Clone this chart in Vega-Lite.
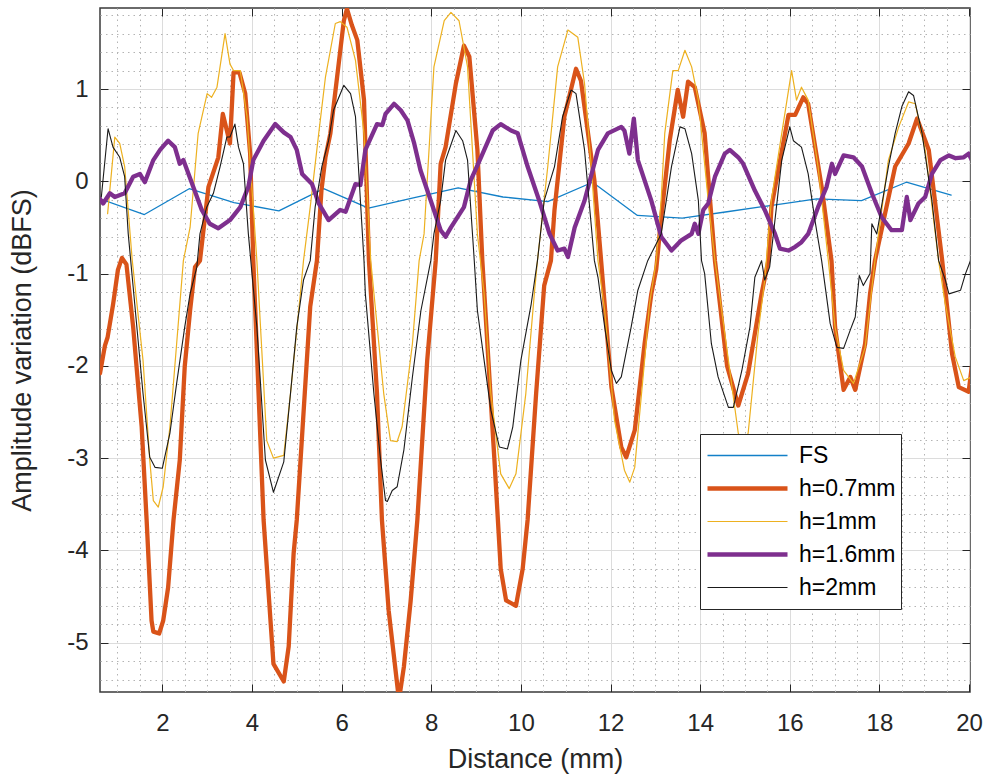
{
  "$schema": "https://vega.github.io/schema/vega-lite/v6.json",
  "width": 870,
  "height": 684,
  "autosize": {"type": "none"},
  "padding": {"left": 100, "top": 8, "right": 14, "bottom": 84},
  "background": "white",
  "config": {
    "view": {"stroke": "#3a3a3a", "strokeWidth": 1.5},
    "font": "Liberation Sans"
  },
  "data": {"values": [
    {"s":"FS","x":0.61,"y":-0.19},{"s":"FS","x":1.6,"y":-0.36},{"s":"FS","x":2.6,"y":-0.08},{"s":"FS","x":3.6,"y":-0.23},{"s":"FS","x":4.6,"y":-0.32},{"s":"FS","x":5.6,"y":-0.08},{"s":"FS","x":6.6,"y":-0.29},{"s":"FS","x":7.6,"y":-0.18},{"s":"FS","x":8.6,"y":-0.07},{"s":"FS","x":9.6,"y":-0.17},{"s":"FS","x":10.6,"y":-0.22},{"s":"FS","x":11.6,"y":-0.01},{"s":"FS","x":12.6,"y":-0.37},{"s":"FS","x":13.6,"y":-0.40},{"s":"FS","x":14.6,"y":-0.33},{"s":"FS","x":15.6,"y":-0.26},{"s":"FS","x":16.6,"y":-0.19},{"s":"FS","x":17.6,"y":-0.21},{"s":"FS","x":18.6,"y":-0.01},{"s":"FS","x":19.6,"y":-0.15},

    {"s":"h=0.7mm","x":0.61,"y":-2.08},{"s":"h=0.7mm","x":0.72,"y":-1.78},{"s":"h=0.7mm","x":0.78,"y":-1.69},{"s":"h=0.7mm","x":0.9,"y":-1.34},{"s":"h=0.7mm","x":1.01,"y":-0.96},{"s":"h=0.7mm","x":1.1,"y":-0.83},{"s":"h=0.7mm","x":1.2,"y":-0.9},{"s":"h=0.7mm","x":1.35,"y":-1.58},{"s":"h=0.7mm","x":1.54,"y":-2.66},{"s":"h=0.7mm","x":1.65,"y":-3.67},{"s":"h=0.7mm","x":1.76,"y":-4.76},{"s":"h=0.7mm","x":1.8,"y":-4.88},{"s":"h=0.7mm","x":1.93,"y":-4.9},{"s":"h=0.7mm","x":2.02,"y":-4.76},{"s":"h=0.7mm","x":2.13,"y":-4.4},{"s":"h=0.7mm","x":2.25,"y":-3.67},{"s":"h=0.7mm","x":2.39,"y":-3.02},{"s":"h=0.7mm","x":2.5,"y":-2.01},{"s":"h=0.7mm","x":2.62,"y":-1.4},{"s":"h=0.7mm","x":2.73,"y":-0.93},{"s":"h=0.7mm","x":2.84,"y":-0.86},{"s":"h=0.7mm","x":3.03,"y":-0.06},{"s":"h=0.7mm","x":3.25,"y":0.26},{"s":"h=0.7mm","x":3.35,"y":0.73},{"s":"h=0.7mm","x":3.42,"y":0.59},{"s":"h=0.7mm","x":3.51,"y":0.41},{"s":"h=0.7mm","x":3.59,"y":1.18},{"s":"h=0.7mm","x":3.72,"y":1.18},{"s":"h=0.7mm","x":3.85,"y":0.95},{"s":"h=0.7mm","x":3.96,"y":0.3},{"s":"h=0.7mm","x":4.03,"y":-0.86},{"s":"h=0.7mm","x":4.26,"y":-3.67},{"s":"h=0.7mm","x":4.48,"y":-5.23},{"s":"h=0.7mm","x":4.71,"y":-5.42},{"s":"h=0.7mm","x":4.82,"y":-5.04},{"s":"h=0.7mm","x":4.93,"y":-4.03},{"s":"h=0.7mm","x":5.0,"y":-3.67},{"s":"h=0.7mm","x":5.3,"y":-1.36},{"s":"h=0.7mm","x":5.45,"y":-0.86},{"s":"h=0.7mm","x":5.55,"y":-0.1},{"s":"h=0.7mm","x":5.64,"y":0.26},{"s":"h=0.7mm","x":5.75,"y":0.52},{"s":"h=0.7mm","x":5.9,"y":1.13},{"s":"h=0.7mm","x":6.05,"y":1.74},{"s":"h=0.7mm","x":6.12,"y":1.87},{"s":"h=0.7mm","x":6.23,"y":1.69},{"s":"h=0.7mm","x":6.35,"y":1.53},{"s":"h=0.7mm","x":6.5,"y":0.88},{"s":"h=0.7mm","x":6.61,"y":-0.86},{"s":"h=0.7mm","x":6.79,"y":-2.3},{"s":"h=0.7mm","x":6.9,"y":-3.67},{"s":"h=0.7mm","x":7.05,"y":-4.65},{"s":"h=0.7mm","x":7.28,"y":-5.62},{"s":"h=0.7mm","x":7.39,"y":-5.26},{"s":"h=0.7mm","x":7.54,"y":-4.55},{"s":"h=0.7mm","x":7.69,"y":-3.67},{"s":"h=0.7mm","x":7.91,"y":-1.94},{"s":"h=0.7mm","x":8.1,"y":-0.86},{"s":"h=0.7mm","x":8.21,"y":0.19},{"s":"h=0.7mm","x":8.32,"y":0.37},{"s":"h=0.7mm","x":8.55,"y":1.06},{"s":"h=0.7mm","x":8.73,"y":1.47},{"s":"h=0.7mm","x":8.85,"y":1.35},{"s":"h=0.7mm","x":9.03,"y":0.34},{"s":"h=0.7mm","x":9.14,"y":-0.86},{"s":"h=0.7mm","x":9.41,"y":-3.02},{"s":"h=0.7mm","x":9.55,"y":-4.2},{"s":"h=0.7mm","x":9.67,"y":-4.54},{"s":"h=0.7mm","x":9.89,"y":-4.6},{"s":"h=0.7mm","x":10.04,"y":-4.2},{"s":"h=0.7mm","x":10.15,"y":-3.67},{"s":"h=0.7mm","x":10.34,"y":-2.3},{"s":"h=0.7mm","x":10.52,"y":-1.13},{"s":"h=0.7mm","x":10.67,"y":-0.86},{"s":"h=0.7mm","x":10.75,"y":-0.31},{"s":"h=0.7mm","x":10.97,"y":0.7},{"s":"h=0.7mm","x":11.23,"y":1.22},{"s":"h=0.7mm","x":11.34,"y":1.09},{"s":"h=0.7mm","x":11.64,"y":0.01},{"s":"h=0.7mm","x":11.79,"y":-0.86},{"s":"h=0.7mm","x":12.02,"y":-2.23},{"s":"h=0.7mm","x":12.24,"y":-2.88},{"s":"h=0.7mm","x":12.35,"y":-2.99},{"s":"h=0.7mm","x":12.54,"y":-2.7},{"s":"h=0.7mm","x":12.76,"y":-1.76},{"s":"h=0.7mm","x":12.91,"y":-1.22},{"s":"h=0.7mm","x":13.02,"y":-0.95},{"s":"h=0.7mm","x":13.13,"y":-0.4},{"s":"h=0.7mm","x":13.32,"y":0.44},{"s":"h=0.7mm","x":13.5,"y":0.99},{"s":"h=0.7mm","x":13.62,"y":0.7},{"s":"h=0.7mm","x":13.73,"y":1.08},{"s":"h=0.7mm","x":13.88,"y":1.02},{"s":"h=0.7mm","x":14.1,"y":0.52},{"s":"h=0.7mm","x":14.33,"y":-0.86},{"s":"h=0.7mm","x":14.6,"y":-2.0},{"s":"h=0.7mm","x":14.85,"y":-2.43},{"s":"h=0.7mm","x":15.07,"y":-2.08},{"s":"h=0.7mm","x":15.37,"y":-1.22},{"s":"h=0.7mm","x":15.52,"y":-0.86},{"s":"h=0.7mm","x":15.59,"y":-0.28},{"s":"h=0.7mm","x":15.97,"y":0.72},{"s":"h=0.7mm","x":16.12,"y":0.72},{"s":"h=0.7mm","x":16.3,"y":0.91},{"s":"h=0.7mm","x":16.41,"y":0.84},{"s":"h=0.7mm","x":16.71,"y":-0.06},{"s":"h=0.7mm","x":16.93,"y":-0.86},{"s":"h=0.7mm","x":17.01,"y":-1.58},{"s":"h=0.7mm","x":17.2,"y":-2.26},{"s":"h=0.7mm","x":17.35,"y":-2.12},{"s":"h=0.7mm","x":17.46,"y":-2.26},{"s":"h=0.7mm","x":17.68,"y":-1.76},{"s":"h=0.7mm","x":17.79,"y":-1.22},{"s":"h=0.7mm","x":17.9,"y":-0.86},{"s":"h=0.7mm","x":18.35,"y":0.16},{"s":"h=0.7mm","x":18.65,"y":0.41},{"s":"h=0.7mm","x":18.84,"y":0.68},{"s":"h=0.7mm","x":19.1,"y":0.34},{"s":"h=0.7mm","x":19.4,"y":-0.86},{"s":"h=0.7mm","x":19.62,"y":-1.87},{"s":"h=0.7mm","x":19.77,"y":-2.23},{"s":"h=0.7mm","x":19.99,"y":-2.28},{"s":"h=0.7mm","x":20.06,"y":-2.01},

    {"s":"h=1mm","x":0.78,"y":-0.35},{"s":"h=1mm","x":0.94,"y":0.48},{"s":"h=1mm","x":1.05,"y":0.41},{"s":"h=1mm","x":1.16,"y":0.16},{"s":"h=1mm","x":1.33,"y":-0.86},{"s":"h=1mm","x":1.57,"y":-1.94},{"s":"h=1mm","x":1.72,"y":-3.02},{"s":"h=1mm","x":1.8,"y":-3.46},{"s":"h=1mm","x":1.91,"y":-3.53},{"s":"h=1mm","x":2.02,"y":-3.31},{"s":"h=1mm","x":2.17,"y":-2.66},{"s":"h=1mm","x":2.32,"y":-1.76},{"s":"h=1mm","x":2.47,"y":-0.86},{"s":"h=1mm","x":2.62,"y":-0.5},{"s":"h=1mm","x":2.8,"y":0.52},{"s":"h=1mm","x":3.0,"y":0.95},{"s":"h=1mm","x":3.1,"y":0.91},{"s":"h=1mm","x":3.22,"y":1.02},{"s":"h=1mm","x":3.4,"y":1.6},{"s":"h=1mm","x":3.51,"y":1.27},{"s":"h=1mm","x":3.59,"y":1.2},{"s":"h=1mm","x":3.74,"y":1.2},{"s":"h=1mm","x":3.89,"y":0.7},{"s":"h=1mm","x":4.11,"y":-0.86},{"s":"h=1mm","x":4.33,"y":-2.81},{"s":"h=1mm","x":4.48,"y":-3.0},{"s":"h=1mm","x":4.71,"y":-2.97},{"s":"h=1mm","x":4.86,"y":-2.3},{"s":"h=1mm","x":5.08,"y":-1.22},{"s":"h=1mm","x":5.15,"y":-0.86},{"s":"h=1mm","x":5.3,"y":-0.28},{"s":"h=1mm","x":5.49,"y":0.52},{"s":"h=1mm","x":5.64,"y":1.13},{"s":"h=1mm","x":5.86,"y":1.71},{"s":"h=1mm","x":5.97,"y":1.73},{"s":"h=1mm","x":6.12,"y":1.67},{"s":"h=1mm","x":6.31,"y":1.31},{"s":"h=1mm","x":6.5,"y":0.52},{"s":"h=1mm","x":6.65,"y":-0.86},{"s":"h=1mm","x":6.94,"y":-2.3},{"s":"h=1mm","x":7.09,"y":-2.81},{"s":"h=1mm","x":7.24,"y":-2.82},{"s":"h=1mm","x":7.35,"y":-2.66},{"s":"h=1mm","x":7.58,"y":-1.76},{"s":"h=1mm","x":7.73,"y":-0.86},{"s":"h=1mm","x":7.84,"y":-0.57},{"s":"h=1mm","x":8.06,"y":1.24},{"s":"h=1mm","x":8.29,"y":1.74},{"s":"h=1mm","x":8.44,"y":1.83},{"s":"h=1mm","x":8.62,"y":1.74},{"s":"h=1mm","x":8.81,"y":1.24},{"s":"h=1mm","x":9.03,"y":-0.57},{"s":"h=1mm","x":9.18,"y":-1.22},{"s":"h=1mm","x":9.33,"y":-2.3},{"s":"h=1mm","x":9.55,"y":-3.17},{"s":"h=1mm","x":9.74,"y":-3.33},{"s":"h=1mm","x":9.89,"y":-3.17},{"s":"h=1mm","x":10.11,"y":-2.3},{"s":"h=1mm","x":10.3,"y":-1.22},{"s":"h=1mm","x":10.37,"y":-0.86},{"s":"h=1mm","x":10.6,"y":0.16},{"s":"h=1mm","x":10.82,"y":1.24},{"s":"h=1mm","x":11.05,"y":1.64},{"s":"h=1mm","x":11.27,"y":1.56},{"s":"h=1mm","x":11.42,"y":1.06},{"s":"h=1mm","x":11.57,"y":0.16},{"s":"h=1mm","x":11.72,"y":-0.86},{"s":"h=1mm","x":11.87,"y":-1.4},{"s":"h=1mm","x":12.09,"y":-2.59},{"s":"h=1mm","x":12.31,"y":-3.13},{"s":"h=1mm","x":12.43,"y":-3.26},{"s":"h=1mm","x":12.54,"y":-3.1},{"s":"h=1mm","x":12.76,"y":-1.94},{"s":"h=1mm","x":12.87,"y":-1.33},{"s":"h=1mm","x":13.02,"y":-0.86},{"s":"h=1mm","x":13.13,"y":-0.2},{"s":"h=1mm","x":13.21,"y":0.52},{"s":"h=1mm","x":13.39,"y":1.2},{"s":"h=1mm","x":13.51,"y":1.2},{"s":"h=1mm","x":13.66,"y":1.42},{"s":"h=1mm","x":13.81,"y":1.24},{"s":"h=1mm","x":13.96,"y":0.88},{"s":"h=1mm","x":14.18,"y":-0.21},{"s":"h=1mm","x":14.33,"y":-0.86},{"s":"h=1mm","x":14.63,"y":-1.94},{"s":"h=1mm","x":14.85,"y":-2.73},{"s":"h=1mm","x":14.96,"y":-2.85},{"s":"h=1mm","x":15.07,"y":-2.73},{"s":"h=1mm","x":15.29,"y":-1.65},{"s":"h=1mm","x":15.44,"y":-1.07},{"s":"h=1mm","x":15.59,"y":-0.2},{"s":"h=1mm","x":15.82,"y":0.52},{"s":"h=1mm","x":16.04,"y":1.2},{"s":"h=1mm","x":16.15,"y":0.88},{"s":"h=1mm","x":16.26,"y":1.02},{"s":"h=1mm","x":16.41,"y":0.88},{"s":"h=1mm","x":16.63,"y":0.16},{"s":"h=1mm","x":16.86,"y":-0.86},{"s":"h=1mm","x":17.01,"y":-1.58},{"s":"h=1mm","x":17.2,"y":-2.05},{"s":"h=1mm","x":17.42,"y":-2.19},{"s":"h=1mm","x":17.68,"y":-1.8},{"s":"h=1mm","x":17.9,"y":-0.86},{"s":"h=1mm","x":18.2,"y":0.23},{"s":"h=1mm","x":18.43,"y":0.59},{"s":"h=1mm","x":18.65,"y":0.86},{"s":"h=1mm","x":18.8,"y":0.84},{"s":"h=1mm","x":19.02,"y":0.34},{"s":"h=1mm","x":19.32,"y":-0.86},{"s":"h=1mm","x":19.47,"y":-1.33},{"s":"h=1mm","x":19.69,"y":-1.9},{"s":"h=1mm","x":19.88,"y":-2.16},{"s":"h=1mm","x":20.06,"y":-2.12},

    {"s":"h=1.6mm","x":0.61,"y":-0.19},{"s":"h=1.6mm","x":0.68,"y":-0.24},{"s":"h=1.6mm","x":0.83,"y":-0.13},{"s":"h=1.6mm","x":0.94,"y":-0.17},{"s":"h=1.6mm","x":1.16,"y":-0.13},{"s":"h=1.6mm","x":1.35,"y":0.05},{"s":"h=1.6mm","x":1.5,"y":0.08},{"s":"h=1.6mm","x":1.61,"y":-0.01},{"s":"h=1.6mm","x":1.8,"y":0.23},{"s":"h=1.6mm","x":1.95,"y":0.34},{"s":"h=1.6mm","x":2.13,"y":0.44},{"s":"h=1.6mm","x":2.28,"y":0.37},{"s":"h=1.6mm","x":2.39,"y":0.19},{"s":"h=1.6mm","x":2.47,"y":0.23},{"s":"h=1.6mm","x":2.69,"y":-0.06},{"s":"h=1.6mm","x":2.88,"y":-0.31},{"s":"h=1.6mm","x":3.06,"y":-0.46},{"s":"h=1.6mm","x":3.25,"y":-0.51},{"s":"h=1.6mm","x":3.51,"y":-0.42},{"s":"h=1.6mm","x":3.74,"y":-0.28},{"s":"h=1.6mm","x":3.92,"y":-0.06},{"s":"h=1.6mm","x":4.03,"y":0.23},{"s":"h=1.6mm","x":4.26,"y":0.44},{"s":"h=1.6mm","x":4.52,"y":0.62},{"s":"h=1.6mm","x":4.71,"y":0.53},{"s":"h=1.6mm","x":4.86,"y":0.48},{"s":"h=1.6mm","x":5.0,"y":0.34},{"s":"h=1.6mm","x":5.12,"y":0.08},{"s":"h=1.6mm","x":5.34,"y":-0.03},{"s":"h=1.6mm","x":5.49,"y":-0.24},{"s":"h=1.6mm","x":5.71,"y":-0.42},{"s":"h=1.6mm","x":5.78,"y":-0.39},{"s":"h=1.6mm","x":5.97,"y":-0.31},{"s":"h=1.6mm","x":6.09,"y":-0.33},{"s":"h=1.6mm","x":6.31,"y":-0.03},{"s":"h=1.6mm","x":6.42,"y":-0.04},{"s":"h=1.6mm","x":6.53,"y":0.34},{"s":"h=1.6mm","x":6.79,"y":0.62},{"s":"h=1.6mm","x":6.91,"y":0.61},{"s":"h=1.6mm","x":6.98,"y":0.73},{"s":"h=1.6mm","x":7.17,"y":0.84},{"s":"h=1.6mm","x":7.32,"y":0.77},{"s":"h=1.6mm","x":7.47,"y":0.66},{"s":"h=1.6mm","x":7.62,"y":0.41},{"s":"h=1.6mm","x":7.76,"y":0.12},{"s":"h=1.6mm","x":7.99,"y":-0.21},{"s":"h=1.6mm","x":8.21,"y":-0.53},{"s":"h=1.6mm","x":8.32,"y":-0.6},{"s":"h=1.6mm","x":8.44,"y":-0.5},{"s":"h=1.6mm","x":8.73,"y":-0.28},{"s":"h=1.6mm","x":8.88,"y":0.01},{"s":"h=1.6mm","x":9.11,"y":0.26},{"s":"h=1.6mm","x":9.37,"y":0.55},{"s":"h=1.6mm","x":9.55,"y":0.62},{"s":"h=1.6mm","x":9.78,"y":0.55},{"s":"h=1.6mm","x":9.93,"y":0.52},{"s":"h=1.6mm","x":10.15,"y":0.16},{"s":"h=1.6mm","x":10.41,"y":-0.21},{"s":"h=1.6mm","x":10.64,"y":-0.57},{"s":"h=1.6mm","x":10.82,"y":-0.75},{"s":"h=1.6mm","x":10.97,"y":-0.73},{"s":"h=1.6mm","x":11.05,"y":-0.82},{"s":"h=1.6mm","x":11.2,"y":-0.5},{"s":"h=1.6mm","x":11.42,"y":-0.21},{"s":"h=1.6mm","x":11.72,"y":0.34},{"s":"h=1.6mm","x":11.94,"y":0.52},{"s":"h=1.6mm","x":12.24,"y":0.59},{"s":"h=1.6mm","x":12.31,"y":0.55},{"s":"h=1.6mm","x":12.42,"y":0.3},{"s":"h=1.6mm","x":12.52,"y":0.68},{"s":"h=1.6mm","x":12.61,"y":0.23},{"s":"h=1.6mm","x":12.91,"y":-0.21},{"s":"h=1.6mm","x":13.13,"y":-0.6},{"s":"h=1.6mm","x":13.36,"y":-0.75},{"s":"h=1.6mm","x":13.58,"y":-0.64},{"s":"h=1.6mm","x":13.81,"y":-0.57},{"s":"h=1.6mm","x":13.88,"y":-0.46},{"s":"h=1.6mm","x":13.96,"y":-0.57},{"s":"h=1.6mm","x":14.07,"y":-0.31},{"s":"h=1.6mm","x":14.18,"y":-0.24},{"s":"h=1.6mm","x":14.33,"y":0.05},{"s":"h=1.6mm","x":14.55,"y":0.3},{"s":"h=1.6mm","x":14.66,"y":0.34},{"s":"h=1.6mm","x":14.85,"y":0.26},{"s":"h=1.6mm","x":14.96,"y":0.19},{"s":"h=1.6mm","x":15.22,"y":-0.1},{"s":"h=1.6mm","x":15.44,"y":-0.31},{"s":"h=1.6mm","x":15.67,"y":-0.57},{"s":"h=1.6mm","x":15.78,"y":-0.73},{"s":"h=1.6mm","x":15.97,"y":-0.75},{"s":"h=1.6mm","x":16.12,"y":-0.71},{"s":"h=1.6mm","x":16.26,"y":-0.66},{"s":"h=1.6mm","x":16.41,"y":-0.57},{"s":"h=1.6mm","x":16.63,"y":-0.28},{"s":"h=1.6mm","x":16.82,"y":-0.06},{"s":"h=1.6mm","x":16.94,"y":0.19},{"s":"h=1.6mm","x":17.01,"y":0.08},{"s":"h=1.6mm","x":17.2,"y":0.28},{"s":"h=1.6mm","x":17.42,"y":0.26},{"s":"h=1.6mm","x":17.61,"y":0.16},{"s":"h=1.6mm","x":17.83,"y":-0.13},{"s":"h=1.6mm","x":18.05,"y":-0.39},{"s":"h=1.6mm","x":18.27,"y":-0.53},{"s":"h=1.6mm","x":18.5,"y":-0.53},{"s":"h=1.6mm","x":18.61,"y":-0.17},{"s":"h=1.6mm","x":18.69,"y":-0.42},{"s":"h=1.6mm","x":18.87,"y":-0.24},{"s":"h=1.6mm","x":19.02,"y":-0.17},{"s":"h=1.6mm","x":19.17,"y":0.08},{"s":"h=1.6mm","x":19.36,"y":0.23},{"s":"h=1.6mm","x":19.55,"y":0.28},{"s":"h=1.6mm","x":19.7,"y":0.25},{"s":"h=1.6mm","x":19.88,"y":0.26},{"s":"h=1.6mm","x":19.99,"y":0.3},{"s":"h=1.6mm","x":20.06,"y":0.23},

    {"s":"h=2mm","x":0.64,"y":-0.17},{"s":"h=2mm","x":0.79,"y":0.57},{"s":"h=2mm","x":0.9,"y":0.37},{"s":"h=2mm","x":1.05,"y":0.26},{"s":"h=2mm","x":1.16,"y":0.05},{"s":"h=2mm","x":1.24,"y":-0.57},{"s":"h=2mm","x":1.57,"y":-2.3},{"s":"h=2mm","x":1.72,"y":-2.99},{"s":"h=2mm","x":1.84,"y":-3.1},{"s":"h=2mm","x":2.0,"y":-3.11},{"s":"h=2mm","x":2.17,"y":-2.73},{"s":"h=2mm","x":2.32,"y":-2.19},{"s":"h=2mm","x":2.5,"y":-1.58},{"s":"h=2mm","x":2.62,"y":-1.22},{"s":"h=2mm","x":2.77,"y":-0.93},{"s":"h=2mm","x":2.84,"y":-0.57},{"s":"h=2mm","x":2.99,"y":-0.28},{"s":"h=2mm","x":3.06,"y":-0.21},{"s":"h=2mm","x":3.14,"y":-0.13},{"s":"h=2mm","x":3.29,"y":0.16},{"s":"h=2mm","x":3.44,"y":0.48},{"s":"h=2mm","x":3.51,"y":0.48},{"s":"h=2mm","x":3.62,"y":0.62},{"s":"h=2mm","x":3.7,"y":0.37},{"s":"h=2mm","x":3.81,"y":0.19},{"s":"h=2mm","x":3.92,"y":-0.57},{"s":"h=2mm","x":4.11,"y":-1.58},{"s":"h=2mm","x":4.3,"y":-3.02},{"s":"h=2mm","x":4.48,"y":-3.37},{"s":"h=2mm","x":4.71,"y":-3.04},{"s":"h=2mm","x":4.86,"y":-2.3},{"s":"h=2mm","x":5.0,"y":-1.58},{"s":"h=2mm","x":5.15,"y":-1.07},{"s":"h=2mm","x":5.3,"y":-0.86},{"s":"h=2mm","x":5.41,"y":-0.28},{"s":"h=2mm","x":5.56,"y":0.16},{"s":"h=2mm","x":5.71,"y":0.44},{"s":"h=2mm","x":5.82,"y":0.77},{"s":"h=2mm","x":6.05,"y":1.04},{"s":"h=2mm","x":6.2,"y":0.95},{"s":"h=2mm","x":6.31,"y":0.7},{"s":"h=2mm","x":6.42,"y":-0.21},{"s":"h=2mm","x":6.5,"y":-0.86},{"s":"h=2mm","x":6.53,"y":-1.22},{"s":"h=2mm","x":6.72,"y":-2.3},{"s":"h=2mm","x":6.87,"y":-3.02},{"s":"h=2mm","x":6.98,"y":-3.46},{"s":"h=2mm","x":7.02,"y":-3.47},{"s":"h=2mm","x":7.13,"y":-3.35},{"s":"h=2mm","x":7.24,"y":-3.31},{"s":"h=2mm","x":7.39,"y":-2.91},{"s":"h=2mm","x":7.58,"y":-2.12},{"s":"h=2mm","x":7.77,"y":-1.4},{"s":"h=2mm","x":7.99,"y":-0.86},{"s":"h=2mm","x":8.06,"y":-0.57},{"s":"h=2mm","x":8.21,"y":-0.21},{"s":"h=2mm","x":8.32,"y":0.23},{"s":"h=2mm","x":8.55,"y":0.55},{"s":"h=2mm","x":8.7,"y":0.44},{"s":"h=2mm","x":8.81,"y":0.23},{"s":"h=2mm","x":8.96,"y":-0.86},{"s":"h=2mm","x":9.03,"y":-1.4},{"s":"h=2mm","x":9.18,"y":-1.94},{"s":"h=2mm","x":9.33,"y":-2.48},{"s":"h=2mm","x":9.52,"y":-2.88},{"s":"h=2mm","x":9.7,"y":-2.9},{"s":"h=2mm","x":9.82,"y":-2.66},{"s":"h=2mm","x":10.0,"y":-1.94},{"s":"h=2mm","x":10.23,"y":-1.33},{"s":"h=2mm","x":10.37,"y":-0.86},{"s":"h=2mm","x":10.52,"y":-0.21},{"s":"h=2mm","x":10.75,"y":0.16},{"s":"h=2mm","x":10.93,"y":0.7},{"s":"h=2mm","x":11.12,"y":0.99},{"s":"h=2mm","x":11.23,"y":0.95},{"s":"h=2mm","x":11.42,"y":0.34},{"s":"h=2mm","x":11.64,"y":-0.86},{"s":"h=2mm","x":11.72,"y":-1.04},{"s":"h=2mm","x":11.87,"y":-1.58},{"s":"h=2mm","x":12.02,"y":-2.05},{"s":"h=2mm","x":12.13,"y":-2.19},{"s":"h=2mm","x":12.24,"y":-2.12},{"s":"h=2mm","x":12.46,"y":-1.58},{"s":"h=2mm","x":12.61,"y":-1.18},{"s":"h=2mm","x":12.83,"y":-0.86},{"s":"h=2mm","x":13.13,"y":-0.57},{"s":"h=2mm","x":13.36,"y":0.16},{"s":"h=2mm","x":13.55,"y":0.59},{"s":"h=2mm","x":13.66,"y":0.57},{"s":"h=2mm","x":13.81,"y":0.3},{"s":"h=2mm","x":13.96,"y":-0.21},{"s":"h=2mm","x":14.03,"y":-0.86},{"s":"h=2mm","x":14.1,"y":-1.0},{"s":"h=2mm","x":14.25,"y":-1.76},{"s":"h=2mm","x":14.4,"y":-2.12},{"s":"h=2mm","x":14.63,"y":-2.45},{"s":"h=2mm","x":14.74,"y":-2.45},{"s":"h=2mm","x":14.93,"y":-2.05},{"s":"h=2mm","x":15.11,"y":-1.58},{"s":"h=2mm","x":15.22,"y":-1.04},{"s":"h=2mm","x":15.37,"y":-0.86},{"s":"h=2mm","x":15.44,"y":-1.07},{"s":"h=2mm","x":15.55,"y":-0.93},{"s":"h=2mm","x":15.82,"y":0.23},{"s":"h=2mm","x":16.0,"y":0.59},{"s":"h=2mm","x":16.08,"y":0.44},{"s":"h=2mm","x":16.26,"y":0.37},{"s":"h=2mm","x":16.41,"y":0.08},{"s":"h=2mm","x":16.56,"y":-0.42},{"s":"h=2mm","x":16.71,"y":-0.86},{"s":"h=2mm","x":16.75,"y":-1.0},{"s":"h=2mm","x":16.9,"y":-1.54},{"s":"h=2mm","x":17.05,"y":-1.8},{"s":"h=2mm","x":17.2,"y":-1.81},{"s":"h=2mm","x":17.35,"y":-1.61},{"s":"h=2mm","x":17.46,"y":-1.47},{"s":"h=2mm","x":17.55,"y":-1.02},{"s":"h=2mm","x":17.64,"y":-1.13},{"s":"h=2mm","x":17.79,"y":-1.0},{"s":"h=2mm","x":17.83,"y":-0.46},{"s":"h=2mm","x":17.94,"y":-0.57},{"s":"h=2mm","x":18.2,"y":0.16},{"s":"h=2mm","x":18.35,"y":0.52},{"s":"h=2mm","x":18.5,"y":0.81},{"s":"h=2mm","x":18.65,"y":0.97},{"s":"h=2mm","x":18.76,"y":0.93},{"s":"h=2mm","x":18.95,"y":0.52},{"s":"h=2mm","x":19.17,"y":-0.21},{"s":"h=2mm","x":19.32,"y":-0.86},{"s":"h=2mm","x":19.47,"y":-1.07},{"s":"h=2mm","x":19.55,"y":-1.22},{"s":"h=2mm","x":19.81,"y":-1.18},{"s":"h=2mm","x":19.92,"y":-1.0},{"s":"h=2mm","x":20.03,"y":-0.86},{"s":"h=2mm","x":20.06,"y":-0.62}
  ]},
  "resolve": {"axis": {"x": "independent", "y": "independent"}},
  "layer": [
    {
      "transform": [{"filter": "datum.s == 'FS'"}],
      "mark": {"type": "point", "opacity": 0},
      "encoding": {
        "x": {"field": "x", "type": "quantitative",
          "scale": {"domain": [0.61, 20.02], "nice": false, "zero": false},
          "axis": {"orient": "bottom", "values": [1,1.5,2.5,3,3.5,4.5,5,5.5,6.5,7,7.5,8.5,9,9.5,10.5,11,11.5,12.5,13,13.5,14.5,15,15.5,16.5,17,17.5,18.5,19,19.5],
            "grid": true, "gridDash": [1.5, 4], "gridColor": "#b4b4b4", "gridWidth": 1,
            "labels": false, "ticks": false, "domain": false, "title": null}},
        "y": {"field": "y", "type": "quantitative",
          "scale": {"domain": [-5.534, 1.878], "nice": false, "zero": false},
          "axis": {"orient": "left", "values": [-5.4,-5.2,-4.8,-4.6,-4.4,-4.2,-3.8,-3.6,-3.4,-3.2,-2.8,-2.6,-2.4,-2.2,-1.8,-1.6,-1.4,-1.2,-0.8,-0.6,-0.4,-0.2,0.2,0.4,0.6,0.8,1.2,1.4,1.6,1.8],
            "grid": true, "gridDash": [1.5, 4], "gridColor": "#b4b4b4", "gridWidth": 1,
            "labels": false, "ticks": false, "domain": false, "title": null}}
      }
    },
    {
      "mark": {"type": "line", "clip": true, "strokeJoin": "round", "strokeCap": "round"},
      "encoding": {
        "x": {"field": "x", "type": "quantitative",
          "scale": {"domain": [0.61, 20.02], "nice": false, "zero": false},
          "axis": {"orient": "bottom", "values": [2,4,6,8,10,12,14,16,18,20],
            "grid": true, "gridColor": "#dcdcdc", "gridWidth": 1,
            "ticks": true, "tickSize": -8, "tickColor": "#262626", "tickWidth": 1,
            "domain": false, "labelFont": "Liberation Sans", "labelFontSize": 24, "labelColor": "#262626",
            "labelPadding": 27, "labelExpr": "'' + datum.value", "labelFlush": false, "labelOverlap": false,
            "title": "Distance (mm)", "titleFont": "Liberation Sans", "titleFontSize": 27, "titleFontWeight": "normal", "titleColor": "#262626", "titlePadding": 11}},
        "y": {"field": "y", "type": "quantitative",
          "scale": {"domain": [-5.534, 1.878], "nice": false, "zero": false},
          "axis": {"orient": "left", "values": [-5,-4,-3,-2,-1,0,1],
            "grid": true, "gridColor": "#dcdcdc", "gridWidth": 1,
            "ticks": true, "tickSize": -8, "tickColor": "#262626", "tickWidth": 1,
            "domain": false, "labelFont": "Liberation Sans", "labelFontSize": 24, "labelColor": "#262626",
            "labelPadding": 20, "labelExpr": "'' + datum.value", "labelFlush": false, "labelOverlap": false,
            "title": "Amplitude variation (dBFS)", "titleFont": "Liberation Sans", "titleFontSize": 27, "titleFontWeight": "normal", "titleColor": "#262626", "titlePadding": 30}},
        "color": {"field": "s", "type": "nominal",
          "scale": {"domain": ["FS","h=0.7mm","h=1mm","h=1.6mm","h=2mm"], "range": ["#1380c8","#D95319","#EDB120","#7E2F8E","#1a1a1a"]},
          "legend": {"orient": "none", "legendX": 600, "legendY": 426, "title": null, "direction": "vertical",
            "fillColor": "white", "strokeColor": "#262626", "padding": 5,
            "symbolType": "stroke", "symbolSize": 6400, "clipHeight": 33, "rowPadding": 0,
            "labelFont": "Liberation Sans", "labelFontSize": 23, "labelColor": "#000000", "labelOffset": 9}},
        "strokeWidth": {"field": "s", "type": "nominal",
          "scale": {"type": "ordinal", "domain": ["FS","h=0.7mm","h=1mm","h=1.6mm","h=2mm"], "range": [1.3, 4.3, 1.2, 4.3, 1.1]},
          "legend": {"orient": "none", "legendX": 600, "legendY": 426, "title": null, "direction": "vertical",
            "fillColor": "white", "strokeColor": "#262626", "padding": 5,
            "symbolType": "stroke", "symbolSize": 6400, "clipHeight": 33, "rowPadding": 0,
            "labelFont": "Liberation Sans", "labelFontSize": 23, "labelColor": "#000000", "labelOffset": 9}}
      }
    },
    {
      "transform": [{"filter": "datum.s == 'FS'"}],
      "mark": {"type": "point", "opacity": 0},
      "encoding": {
        "x": {"field": "x", "type": "quantitative",
          "scale": {"domain": [0.61, 20.02], "nice": false, "zero": false},
          "axis": {"orient": "top", "values": [2,4,6,8,10,12,14,16,18,20],
            "grid": false, "labels": false, "ticks": true, "tickSize": -8, "tickColor": "#262626", "tickWidth": 1,
            "domain": false, "title": null}},
        "y": {"field": "y", "type": "quantitative",
          "scale": {"domain": [-5.534, 1.878], "nice": false, "zero": false},
          "axis": {"orient": "right", "values": [-5,-4,-3,-2,-1,0,1],
            "grid": false, "labels": false, "ticks": true, "tickSize": -8, "tickColor": "#262626", "tickWidth": 1,
            "domain": false, "title": null}}
      }
    }
  ]
}
